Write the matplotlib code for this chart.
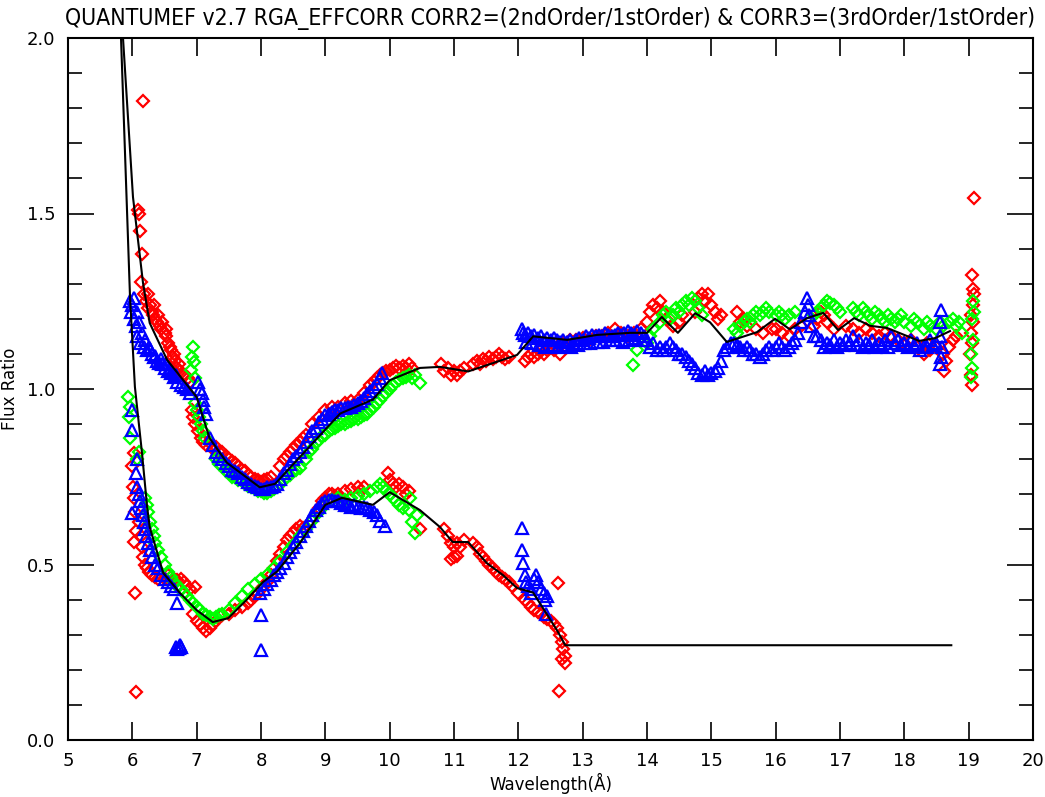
import matplotlib
matplotlib.use("Agg")
import matplotlib.pyplot as plt
from matplotlib.ticker import MultipleLocator

TITLE = "QUANTUMEF v2.7 RGA_EFFCORR CORR2=(2ndOrder/1stOrder) & CORR3=(3rdOrder/1stOrder)"
XLABEL = "Wavelength(Å)"
YLABEL = "Flux Ratio"

# ---- model curves (black lines) ----
corr2_line_x = [5.80, 5.855, 6.01, 6.166, 6.27, 6.54, 7.0, 7.2, 7.47, 7.98, 8.22, 9.23, 9.74, 10.0,
                10.47, 10.78, 11.22, 11.98, 12.23, 12.76, 13.22, 13.74, 14.0, 14.23, 14.48, 14.75,
                14.98, 15.24, 15.71, 15.99, 16.22, 16.49, 16.74, 16.97, 17.22, 17.47, 17.73, 18.23,
                18.48, 18.71]
corr2_line_y = [2.15, 2.0, 1.547, 1.302, 1.188, 1.083, 0.977, 0.86, 0.79, 0.72, 0.73, 0.93, 0.97, 1.025,
                1.06, 1.063, 1.05, 1.097, 1.15, 1.14, 1.154, 1.16, 1.16, 1.205, 1.16, 1.216,
                1.19, 1.134, 1.162, 1.20, 1.17, 1.202, 1.217, 1.168, 1.202, 1.18, 1.174, 1.137,
                1.145, 1.165]

corr3_line_x = [5.80, 5.824, 5.964, 6.04, 6.15, 6.23, 6.27, 6.48, 6.74, 7.0, 7.25, 7.49, 7.78, 8.03,
                8.25, 8.6, 9.0, 9.26, 9.74, 10.0, 10.47, 10.78, 10.98, 11.22, 11.51, 11.76, 11.98,
                12.23, 12.6, 12.73, 18.73]
corr3_line_y = [2.1, 2.0, 1.262, 1.006, 0.818, 0.664, 0.607, 0.476, 0.419, 0.37, 0.336, 0.347, 0.40, 0.45,
                0.48, 0.56, 0.67, 0.69, 0.67, 0.706, 0.655, 0.607, 0.564, 0.564, 0.504, 0.47, 0.433,
                0.42, 0.313, 0.27, 0.27]

# ---- CORR2 (upper) scatter ----
red2_x = [6.09, 6.10, 6.12, 6.15, 6.13, 6.17,
          6.18, 6.22, 6.25, 6.28, 6.30, 6.33, 6.36, 6.40, 6.43, 6.46, 6.50, 6.53, 6.56, 6.60, 6.63, 6.66,
          6.70, 6.74, 6.78, 6.82, 6.86, 6.90,
          6.24, 6.32, 6.38, 6.45, 6.52, 6.58, 6.64, 6.72,
          6.93, 6.95, 6.98, 7.02, 7.06, 7.10, 7.15, 7.20, 7.25, 7.30, 7.35, 7.40, 7.45, 7.50, 7.55, 7.60,
          7.65, 7.70, 7.75, 7.80, 7.85, 7.90, 7.95, 8.00, 8.05, 8.10, 8.15,
          8.30, 8.35, 8.40, 8.45, 8.50, 8.55, 8.60, 8.65, 8.70,
          8.80, 8.90, 9.00, 9.10, 9.20, 9.30, 9.40, 9.50, 9.60, 9.70, 9.75,
          9.80, 9.85, 9.90, 9.95, 10.00, 10.05, 10.10, 10.15, 10.20, 10.25, 10.30, 10.35,
          10.80, 10.85, 10.90, 10.95, 11.00, 11.05, 11.10, 11.15,
          11.30, 11.35, 11.40, 11.45, 11.50, 11.55, 11.60, 11.65, 11.70, 11.75, 11.80, 11.85,
          12.10, 12.15, 12.20, 12.25, 12.30, 12.35, 12.40, 12.45, 12.50, 12.55, 12.60, 12.65, 12.70,
          12.80, 12.90, 13.00, 13.10, 13.20, 13.30, 13.40, 13.50, 13.60, 13.70, 13.80, 13.90,
          14.00, 14.05, 14.10, 14.15, 14.20, 14.25, 14.30, 14.40, 14.50, 14.55,
          14.75, 14.80, 14.85, 14.90, 14.95, 15.00, 15.05, 15.10, 15.15,
          15.40, 15.45, 15.50, 15.55, 15.60, 15.70, 15.80,
          15.95, 16.00, 16.10, 16.20, 16.30, 16.40,
          16.60, 16.65, 16.70, 16.75, 16.80, 16.90,
          17.10, 17.20, 17.30, 17.40, 17.50, 17.60, 17.70, 17.80, 17.90, 18.00, 18.10, 18.20,
          18.30, 18.35, 18.40, 18.50, 18.60, 18.62, 18.65, 18.70, 18.75, 18.80,
          19.08, 19.05, 19.07, 19.08, 19.06, 19.04, 19.06, 19.03, 19.05, 19.02, 19.04, 19.05]
red2_y = [1.51, 1.50, 1.45, 1.385, 1.305, 1.82,
          1.27, 1.25, 1.27, 1.24, 1.22, 1.24, 1.20, 1.21, 1.18, 1.19, 1.16, 1.17, 1.13, 1.11, 1.09, 1.08,
          1.06, 1.05, 1.04, 1.04, 1.03, 1.02,
          1.23, 1.21, 1.19, 1.17, 1.15, 1.12, 1.10, 1.07,
          0.94, 0.92, 0.90, 0.88, 0.86, 0.85, 0.84, 0.845, 0.83, 0.835, 0.82, 0.82, 0.81, 0.80, 0.795, 0.79,
          0.78, 0.77, 0.765, 0.755, 0.75, 0.745, 0.74, 0.735, 0.74, 0.745, 0.75,
          0.78, 0.80, 0.81, 0.82, 0.83, 0.84, 0.85, 0.86, 0.87,
          0.90, 0.92, 0.94, 0.95, 0.95, 0.96, 0.965, 0.97, 0.99, 1.01, 1.02,
          1.03, 1.04, 1.045, 1.05, 1.055, 1.06, 1.065, 1.06, 1.065, 1.06, 1.07, 1.06,
          1.07, 1.05, 1.06, 1.04, 1.05, 1.04, 1.05, 1.06,
          1.07, 1.08, 1.07, 1.085, 1.08, 1.09, 1.085, 1.09, 1.10, 1.09, 1.085, 1.09,
          1.08, 1.09, 1.10, 1.09, 1.10, 1.11, 1.10, 1.11, 1.12, 1.11, 1.12, 1.10, 1.13,
          1.14, 1.14, 1.145, 1.14, 1.15, 1.15, 1.16, 1.17, 1.16, 1.15, 1.16, 1.17,
          1.19, 1.22, 1.24, 1.23, 1.25, 1.22, 1.20, 1.18, 1.19, 1.21,
          1.22, 1.26, 1.27, 1.25, 1.27, 1.24, 1.22, 1.20, 1.21,
          1.22, 1.19, 1.20, 1.18, 1.19, 1.17, 1.16,
          1.17, 1.17, 1.16, 1.15, 1.17, 1.18,
          1.18, 1.20, 1.22, 1.21, 1.19, 1.17,
          1.18, 1.17, 1.16, 1.17, 1.16, 1.15, 1.16, 1.15, 1.14, 1.13, 1.14, 1.12,
          1.10, 1.13, 1.11, 1.12, 1.10, 1.05, 1.08, 1.12, 1.14, 1.15,
          1.545, 1.325, 1.285, 1.27, 1.24, 1.21, 1.19, 1.16, 1.13, 1.10, 1.04, 1.01]

green2_x = [6.95, 6.93, 6.96, 6.91, 6.97,
            6.98, 7.00, 7.03, 7.06, 7.10, 7.13,
            7.30, 7.40, 7.50, 7.60, 7.70, 7.80, 7.90, 8.00, 8.10, 8.20, 8.30, 8.40, 8.50, 8.60,
            7.35, 7.45, 7.55, 7.65, 7.75, 7.85, 7.95, 8.05, 8.15, 8.25, 8.35, 8.45, 8.55,
            8.70, 8.80, 8.90, 9.00, 9.10, 9.20, 9.30, 9.40, 9.50, 9.60, 9.70, 9.80, 9.90,
            8.75, 8.85, 8.95, 9.05, 9.15, 9.25, 9.35, 9.45, 9.55, 9.65, 9.75, 9.85, 9.95,
            10.00, 10.05, 10.10, 10.15, 10.20, 10.25, 10.30, 10.35, 10.40, 10.47,
            13.78, 13.85, 14.00, 14.05, 14.10,
            14.20, 14.25, 14.30, 14.35, 14.40, 14.45, 14.50, 14.55, 14.60, 14.65, 14.70, 14.75, 14.80, 14.85,
            15.35, 15.40, 15.45, 15.50, 15.55, 15.60, 15.65, 15.70, 15.75, 15.80, 15.85, 15.90, 16.00,
            16.05, 16.10, 16.15, 16.20, 16.30,
            16.60, 16.65, 16.70, 16.75, 16.80, 16.85, 16.90, 16.95, 17.00,
            17.20, 17.25, 17.30, 17.40, 17.45, 17.50, 17.60, 17.65, 17.70, 17.80, 17.85, 17.90, 18.00,
            18.10, 18.20, 18.30, 18.40, 18.50, 18.60, 18.70, 18.80, 18.90,
            17.35, 17.55, 17.75, 17.95, 18.15, 18.35, 18.55, 18.75, 18.85,
            19.06, 19.08, 19.05, 19.07, 19.04, 19.05, 19.03]
green2_y = [1.12, 1.09, 1.077, 1.054, 1.03,
            0.96, 0.94, 0.92, 0.90, 0.88, 0.86,
            0.80, 0.78, 0.76, 0.75, 0.74, 0.725, 0.715, 0.71, 0.705, 0.715, 0.73, 0.75, 0.765, 0.775,
            0.785, 0.765, 0.75, 0.74, 0.73, 0.72, 0.71, 0.705, 0.71, 0.72, 0.74, 0.755, 0.77,
            0.80, 0.83, 0.855, 0.87, 0.885, 0.895, 0.90, 0.91, 0.915, 0.925, 0.94, 0.96, 0.98,
            0.82, 0.845, 0.865, 0.88, 0.89, 0.90, 0.905, 0.915, 0.92, 0.93, 0.95, 0.97, 0.99,
            1.00, 1.01, 1.02, 1.025, 1.03, 1.035, 1.04, 1.03, 1.04, 1.017,
            1.068, 1.11, 1.13, 1.15, 1.17,
            1.19, 1.21, 1.22, 1.20, 1.21, 1.23, 1.22, 1.24, 1.25, 1.24, 1.26, 1.25, 1.23, 1.21,
            1.17, 1.16, 1.18, 1.19, 1.20, 1.19, 1.21, 1.22, 1.21, 1.22, 1.23, 1.22, 1.21,
            1.22, 1.21, 1.20, 1.21, 1.22,
            1.21, 1.22, 1.23, 1.24, 1.25, 1.245, 1.24, 1.23, 1.22,
            1.23, 1.22, 1.21, 1.22, 1.21, 1.20, 1.21, 1.20, 1.19, 1.20, 1.19, 1.20, 1.19,
            1.18, 1.19, 1.17, 1.18, 1.17, 1.18, 1.19, 1.18, 1.16,
            1.23, 1.22, 1.21, 1.21, 1.20, 1.19, 1.19, 1.20, 1.19,
            1.25, 1.22, 1.20, 1.14, 1.10, 1.06, 1.035]

blue2_x = [5.97, 5.98, 6.00, 6.02, 6.03, 6.05, 6.07, 6.08, 6.10, 6.12, 6.15, 6.18, 6.20, 6.23, 6.26,
           6.30, 6.34, 6.38, 6.42, 6.46, 6.50, 6.55, 6.60, 6.65, 6.70, 6.75, 6.80, 6.85, 6.90,
           6.28, 6.36, 6.44, 6.52, 6.58, 6.68,
           7.02, 7.05, 7.08, 7.10, 7.12, 7.15,
           7.20, 7.25, 7.30, 7.35, 7.40, 7.45, 7.50, 7.55, 7.60, 7.65, 7.70, 7.75, 7.80, 7.85, 7.90,
           7.95, 8.00, 8.05, 8.10, 8.15, 8.20, 8.25,
           8.30, 8.35, 8.40, 8.45, 8.50, 8.55, 8.60, 8.65, 8.70, 8.75, 8.80, 8.85, 8.90, 8.95, 9.00,
           9.05, 9.10, 9.15, 9.20, 9.25, 9.30, 9.35, 9.40, 9.45, 9.50, 9.55, 9.60, 9.65, 9.70, 9.75,
           9.80, 9.85, 9.88,
           12.05, 12.08, 12.10, 12.15, 12.20, 12.25, 12.30, 12.35, 12.40, 12.45, 12.50, 12.55, 12.60,
           12.65, 12.70, 12.75, 12.80, 12.85, 12.90, 12.95, 13.00, 13.05, 13.10, 13.15, 13.20, 13.25,
           13.30, 13.35, 13.40, 13.45, 13.50, 13.55, 13.60, 13.65, 13.70, 13.75, 13.80, 13.85, 13.90,
           13.95,
           12.12, 12.22, 12.32, 12.42, 12.52, 12.62, 12.72, 12.82, 12.92, 13.02, 13.12, 13.22, 13.32,
           13.42, 13.52, 13.62, 13.72, 13.82, 13.92,
           14.00, 14.05, 14.10, 14.15, 14.20, 14.25, 14.30, 14.35, 14.40, 14.45, 14.50, 14.55, 14.60,
           14.65, 14.70, 14.75, 14.80, 14.85, 14.90, 14.95, 15.00, 15.05, 15.10, 15.15, 15.20, 15.25,
           15.30, 15.35, 15.40, 15.45, 15.50, 15.55, 15.60, 15.65, 15.70, 15.75, 15.80, 15.85, 15.90,
           15.95, 16.00, 16.05, 16.10, 16.15, 16.20, 16.25, 16.30, 16.35, 16.40, 16.45, 16.48, 16.50,
           16.52, 16.55, 16.60, 16.65, 16.70, 16.80, 16.90, 17.00, 17.10, 17.20, 17.30, 17.40, 17.50,
           17.60, 17.70, 17.80, 17.90, 18.00, 18.10, 18.20, 18.30, 18.40, 18.50, 18.55,
           16.75, 16.85, 16.95, 17.05, 17.15, 17.25, 17.35, 17.45, 17.55, 17.65, 17.75, 17.85, 17.95,
           18.05, 18.15, 18.25, 18.35, 18.45,
           18.57, 18.56, 18.58, 18.57, 18.56]
blue2_y = [1.25, 1.22, 1.24, 1.20, 1.26, 1.18, 1.22, 1.15, 1.19, 1.13, 1.16, 1.12, 1.14, 1.11, 1.12,
           1.10, 1.09, 1.08, 1.075, 1.07, 1.06, 1.05, 1.045, 1.035, 1.02, 1.01, 1.005, 1.00, 0.99,
           1.115, 1.095, 1.085, 1.07, 1.055, 1.04,
           1.02, 1.00, 0.99, 0.97, 0.95, 0.93,
           0.86, 0.84, 0.82, 0.81, 0.80, 0.79, 0.78, 0.77, 0.765, 0.76, 0.75, 0.745, 0.735, 0.73, 0.725,
           0.72, 0.715, 0.715, 0.72, 0.72, 0.725, 0.73,
           0.745, 0.76, 0.77, 0.785, 0.80, 0.81, 0.82, 0.835, 0.85, 0.865, 0.88, 0.89, 0.905, 0.915, 0.925,
           0.93, 0.935, 0.94, 0.94, 0.945, 0.945, 0.95, 0.95, 0.955, 0.96, 0.965, 0.975, 0.985, 0.995, 1.005,
           1.015, 1.03, 1.045,
           1.17, 1.16, 1.155, 1.16, 1.15, 1.155, 1.145, 1.15, 1.14, 1.145, 1.14, 1.145, 1.14,
           1.135, 1.14, 1.135, 1.14, 1.13, 1.14, 1.145, 1.14, 1.15, 1.145, 1.155, 1.15, 1.155,
           1.15, 1.16, 1.155, 1.15, 1.155, 1.16, 1.155, 1.16, 1.165, 1.16, 1.155, 1.165, 1.16,
           1.15,
           1.135, 1.13, 1.125, 1.12, 1.125, 1.12, 1.125, 1.12, 1.125, 1.13, 1.13, 1.135, 1.135,
           1.14, 1.14, 1.135, 1.14, 1.145, 1.14,
           1.14, 1.12, 1.13, 1.11, 1.12, 1.11, 1.12, 1.13, 1.12, 1.11, 1.10, 1.10, 1.09,
           1.08, 1.07, 1.06, 1.045, 1.04, 1.05, 1.04, 1.045, 1.05, 1.06, 1.08, 1.11, 1.12,
           1.13, 1.13, 1.125, 1.12, 1.11, 1.12, 1.11, 1.10, 1.10, 1.09, 1.10, 1.11, 1.12,
           1.11, 1.12, 1.13, 1.12, 1.11, 1.12, 1.13, 1.14, 1.16, 1.19, 1.22, 1.26, 1.24,
           1.21, 1.18, 1.15, 1.15, 1.14, 1.13, 1.14, 1.13, 1.14, 1.15, 1.14, 1.13, 1.14,
           1.13, 1.14, 1.15, 1.14, 1.13, 1.14, 1.13, 1.12, 1.14, 1.13, 1.15,
           1.12, 1.125, 1.12, 1.125, 1.13, 1.125, 1.12, 1.125, 1.12, 1.125, 1.12, 1.13, 1.125,
           1.12, 1.125, 1.11, 1.12, 1.125,
           1.225, 1.19, 1.12, 1.09, 1.07]

# ---- CORR3 (lower) scatter ----
red3_x = [6.06, 6.04, 6.03, 6.05, 6.02, 6.01, 6.03, 6.00, 6.04,
          6.10, 6.13, 6.15, 6.17, 6.20, 6.23, 6.26, 6.30, 6.35, 6.40, 6.45, 6.50, 6.55, 6.60, 6.65,
          6.70, 6.75, 6.80, 6.85, 6.90, 6.97,
          6.95, 7.00, 7.05, 7.10, 7.15, 7.20, 7.25, 7.30, 7.40, 7.50, 7.60, 7.70, 7.80, 7.85, 7.90,
          7.95, 8.00, 8.05, 8.10, 8.15, 8.20, 8.25, 8.30, 8.35, 8.40, 8.45, 8.50, 8.55, 8.60, 8.65,
          8.90, 8.95, 9.00, 9.05, 9.10, 9.15, 9.20, 9.30, 9.40, 9.50, 9.55, 9.60,
          9.97, 10.00, 10.05, 10.10, 10.15, 10.20, 10.25, 10.30, 10.47,
          10.85, 10.90, 10.95, 11.00, 11.05, 11.10, 11.15, 10.95, 11.00, 11.05,
          11.30, 11.35, 11.40, 11.45, 11.50, 11.55, 11.60, 11.65, 11.70, 11.75, 11.80, 11.85, 11.90,
          12.00, 12.10, 12.15, 12.20, 12.25, 12.30, 12.35, 12.40, 12.45, 12.50, 12.55, 12.60,
          12.62, 12.65, 12.68, 12.70, 12.72, 12.68, 12.73, 12.63]
red3_y = [0.137, 0.42, 0.564, 0.595, 0.69, 0.72, 0.817, 0.78, 0.65,
          0.62, 0.58, 0.55, 0.52, 0.50, 0.49, 0.48, 0.47, 0.465, 0.46, 0.47, 0.46, 0.47, 0.465, 0.46,
          0.455, 0.46, 0.45, 0.44, 0.43, 0.436,
          0.36, 0.34, 0.33, 0.32, 0.31, 0.32, 0.33, 0.34, 0.355, 0.36, 0.37, 0.38, 0.39, 0.40, 0.41,
          0.42, 0.43, 0.44, 0.45, 0.47, 0.49, 0.51, 0.53, 0.55, 0.57, 0.58, 0.59, 0.60, 0.61, 0.605,
          0.66, 0.68, 0.69, 0.70, 0.70, 0.695, 0.70, 0.71, 0.715, 0.72, 0.71, 0.72,
          0.76, 0.74, 0.73, 0.72, 0.73, 0.72, 0.70, 0.71, 0.60,
          0.60, 0.58, 0.56, 0.55, 0.56, 0.55, 0.57, 0.515, 0.52, 0.525,
          0.56, 0.55, 0.53, 0.52, 0.51, 0.50, 0.49, 0.48, 0.47, 0.465, 0.46, 0.45, 0.44,
          0.42, 0.40, 0.39, 0.38, 0.37, 0.365, 0.36, 0.35, 0.345, 0.34, 0.33, 0.32,
          0.447, 0.30, 0.28, 0.26, 0.24, 0.23, 0.22, 0.14]

green3_x = [5.93, 5.95, 5.96, 5.97, 6.07, 6.10,
            6.20, 6.23, 6.25, 6.28, 6.30, 6.33, 6.36, 6.40, 6.45, 6.50, 6.55, 6.60, 6.65, 6.70, 6.75,
            6.80, 6.85, 6.90, 6.95, 7.00, 7.05, 7.10, 7.15, 7.20, 7.25, 7.30, 7.35, 7.40, 7.50, 7.60,
            7.70, 7.80, 7.90, 8.00, 8.10, 8.20, 8.30, 8.40, 8.50, 8.60, 8.70, 8.80, 8.90, 9.00, 9.10,
            9.20, 9.30, 9.40, 9.50, 9.60, 9.70, 9.80, 9.85, 9.90, 9.95, 10.00, 10.05, 10.10, 10.15,
            10.20, 10.30, 10.35, 10.40, 10.32, 10.42]
green3_y = [0.977, 0.92, 0.86, 0.95, 0.80, 0.82,
            0.69, 0.67, 0.65, 0.62, 0.60, 0.58, 0.56, 0.54, 0.52, 0.50, 0.48, 0.465, 0.45, 0.44, 0.43,
            0.42, 0.41, 0.40, 0.39, 0.38, 0.37, 0.36, 0.355, 0.35, 0.345, 0.35, 0.355, 0.36, 0.37, 0.39,
            0.41, 0.43, 0.445, 0.46, 0.47, 0.49, 0.51, 0.535, 0.555, 0.58, 0.60, 0.625, 0.65, 0.67, 0.685,
            0.69, 0.685, 0.69, 0.695, 0.70, 0.71, 0.72, 0.73, 0.72, 0.71, 0.70, 0.69, 0.68, 0.67,
            0.66, 0.655, 0.62, 0.59, 0.69, 0.64]

blue3_x = [5.99, 6.00, 5.99, 6.07, 6.05, 6.08, 6.10, 6.12, 6.14, 6.16, 6.18, 6.20, 6.22, 6.25, 6.28,
           6.30, 6.35, 6.40, 6.45, 6.50, 6.55, 6.60, 6.65, 6.69,
           6.68, 6.72, 6.76, 6.70, 6.74,
           7.99, 8.00, 8.00,
           8.05, 8.10, 8.15, 8.20, 8.25, 8.30, 8.35, 8.40, 8.45, 8.50, 8.55, 8.60, 8.65, 8.70, 8.75,
           8.80, 8.85, 8.90, 8.95, 9.00, 9.05, 9.10, 9.15, 9.20, 9.25, 9.30, 9.35, 9.40, 9.45, 9.50,
           9.55, 9.60, 9.65, 9.70, 9.75, 9.80, 9.85, 9.93,
           12.06, 12.06, 12.07, 12.10, 12.12, 12.15, 12.20, 12.25, 12.28, 12.30, 12.35, 12.40, 12.42,
           12.45, 12.43, 12.20]
blue3_y = [0.94, 0.883, 0.647, 0.80, 0.76, 0.72, 0.70, 0.68, 0.66, 0.64, 0.62, 0.60, 0.58, 0.56, 0.54,
           0.52, 0.50, 0.49, 0.47, 0.46, 0.45, 0.44, 0.43, 0.39,
           0.265, 0.262, 0.265, 0.26, 0.27,
           0.42, 0.356, 0.256,
           0.43, 0.445, 0.455, 0.47, 0.48, 0.49, 0.505, 0.52, 0.535, 0.55, 0.565, 0.58, 0.595, 0.61, 0.625,
           0.64, 0.655, 0.665, 0.675, 0.68, 0.685, 0.685, 0.68, 0.68, 0.675, 0.67, 0.67, 0.665, 0.67, 0.665,
           0.66, 0.665, 0.66, 0.655, 0.65, 0.64, 0.625, 0.61,
           0.604, 0.54, 0.504, 0.47, 0.45, 0.44, 0.43, 0.46, 0.47, 0.45, 0.43, 0.42, 0.40,
           0.41, 0.36, 0.42]

RED, GREEN, BLUE = "#ff0000", "#00ff00", "#0000ff"

plt.rcParams["font.family"] = ["DejaVu Sans"]
fig = plt.figure(figsize=(10.45, 7.97), dpi=100)
ax = fig.add_axes([68 / 1045, 57 / 797, 965 / 1045, 702 / 797])

dkw = dict(linestyle="none", marker="D", markersize=6.6, markerfacecolor="none", markeredgewidth=1.6)
tkw = dict(linestyle="none", marker="^", markersize=9.2, markerfacecolor="none", markeredgewidth=1.6)

ax.plot(red2_x, red2_y, color=RED, **dkw)
ax.plot(red3_x, red3_y, color=RED, **dkw)
ax.plot(green2_x, green2_y, color=GREEN, **dkw)
ax.plot(green3_x, green3_y, color=GREEN, **dkw)
ax.plot(blue2_x, blue2_y, color=BLUE, **tkw)
ax.plot(blue3_x, blue3_y, color=BLUE, **tkw)

ax.plot(corr2_line_x, corr2_line_y, color="black", linewidth=1.5)
ax.plot(corr3_line_x, corr3_line_y, color="black", linewidth=1.5)

ax.set_xlim(5, 20)
ax.set_ylim(0, 2)
ax.xaxis.set_major_locator(MultipleLocator(1))
ax.yaxis.set_major_locator(MultipleLocator(0.5))
ax.yaxis.set_minor_locator(MultipleLocator(0.1))
ax.yaxis.set_major_formatter(matplotlib.ticker.FormatStrFormatter("%.1f"))
ax.tick_params(axis="both", which="both", direction="in", top=True, right=True, width=1.2,
               labelsize=13, colors="black")
ax.tick_params(axis="x", which="major", length=13, pad=9)
ax.tick_params(axis="y", which="major", length=19, pad=9)
ax.tick_params(axis="y", which="minor", length=10)
for s in ax.spines.values():
    s.set_linewidth(1.5)

ax.set_title(TITLE, fontsize=16.5, fontstretch="condensed", pad=9)
ax.set_xlabel(XLABEL, fontsize=12, labelpad=2)
ax.set_ylabel(YLABEL, fontsize=12, labelpad=6)

fig.savefig("out.png", dpi=100)
